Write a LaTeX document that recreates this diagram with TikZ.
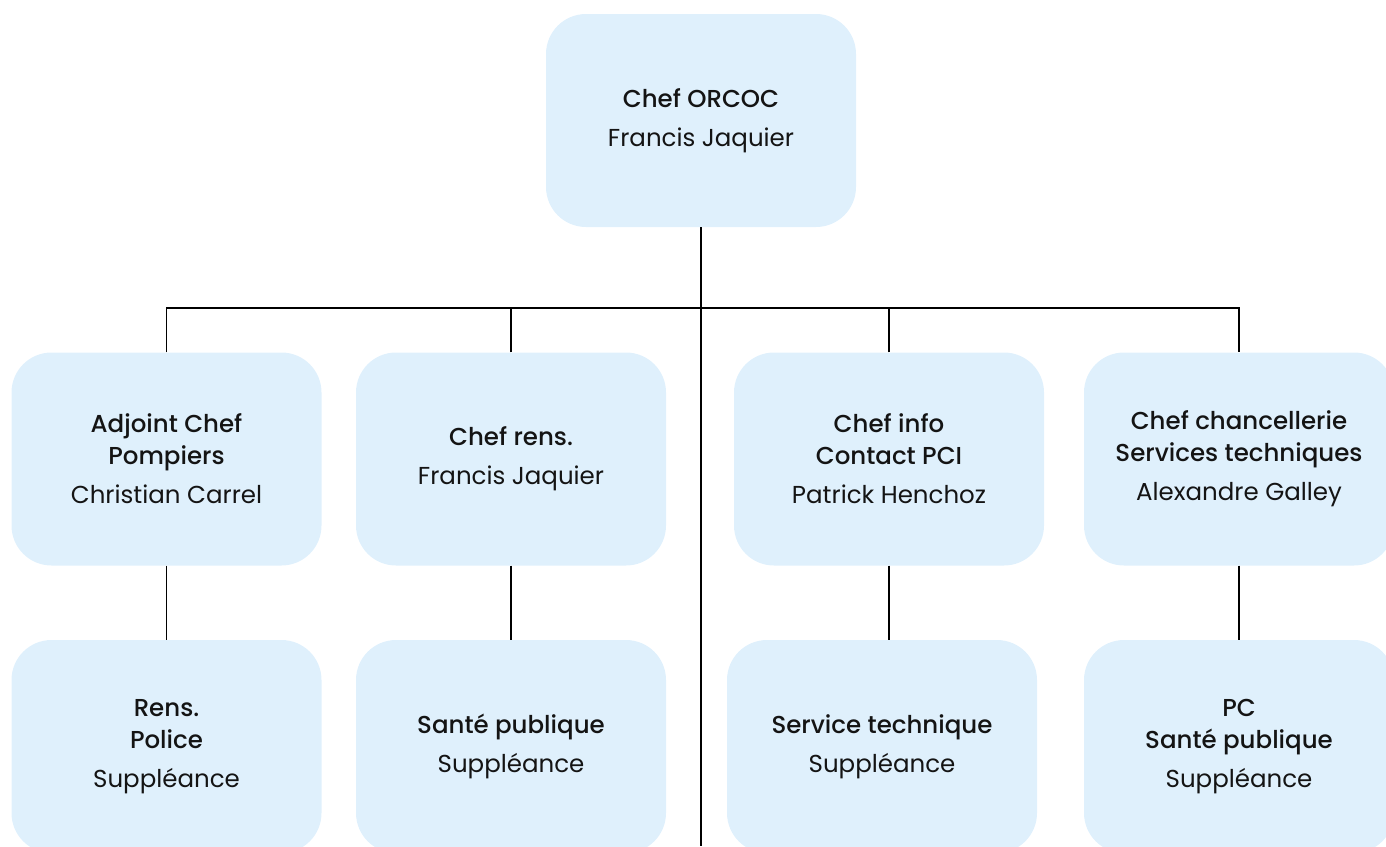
\documentclass[tikz,border=0pt]{standalone}
\usepackage{fontspec}
\setmainfont{Poppins}[BoldFont={Poppins Medium}]
\begin{document}
\begin{tikzpicture}[x=1pt,y=-1pt,
  box/.style={rectangle,rounded corners=40pt,fill=boxblue,draw=none,
    minimum width=310pt,minimum height=213pt,align=center,
    font=\fontsize{24.5}{32}\selectfont,text=black!92},
  link/.style={line width=1.3pt,black}]
\definecolor{boxblue}{HTML}{DFF0FC}
\useasboundingbox (0,0) rectangle (1386,846);
\newcommand{\ttl}[1]{\textbf{#1}}
\node[box] (top) at (701,120.5) {\ttl{Chef ORCOC}\\[7pt]Francis Jaquier};
\node[box] (A) at (166.5,459) {\ttl{Adjoint Chef}\\\ttl{Pompiers}\\[7pt]Christian Carrel};
\node[box] (B) at (511,459) {\ttl{Chef rens.}\\[7pt]Francis Jaquier};
\node[box] (C) at (889,459) {\ttl{Chef info}\\\ttl{Contact PCI}\\[7pt]Patrick Henchoz};
\node[box] (D) at (1239,459) {\ttl{Chef chancellerie}\\\ttl{Services techniques}\\[7pt]Alexandre Galley};
\node[box] (E) at (166.5,746.5) {\ttl{Rens.}\\\ttl{Police}\\[7pt]Suppléance};
\node[box] (F) at (511,746.5) {\ttl{Santé publique}\\[7pt]Suppléance};
\node[box] (G) at (882,746.5) {\ttl{Service technique}\\[7pt]Suppléance};
\node[box] (H) at (1239,746.5) {\ttl{PC}\\\ttl{Santé publique}\\[7pt]Suppléance};
\coordinate (bus) at (701,308);
\coordinate (trunkend) at (701,846);
\draw[link] (top.south) -- (trunkend);
\draw[link] (A.north) |- (bus) -| (D.north);
\draw[link] (B.north) -- (B.north |- bus);
\draw[link] (C.north) -- (C.north |- bus);
\draw[link] (A.south) -- (E.north);
\draw[link] (B.south) -- (F.north);
\draw[link] (C.south) -- (C.south |- G.north);
\draw[link] (D.south) -- (H.north);
\end{tikzpicture}
\end{document}
